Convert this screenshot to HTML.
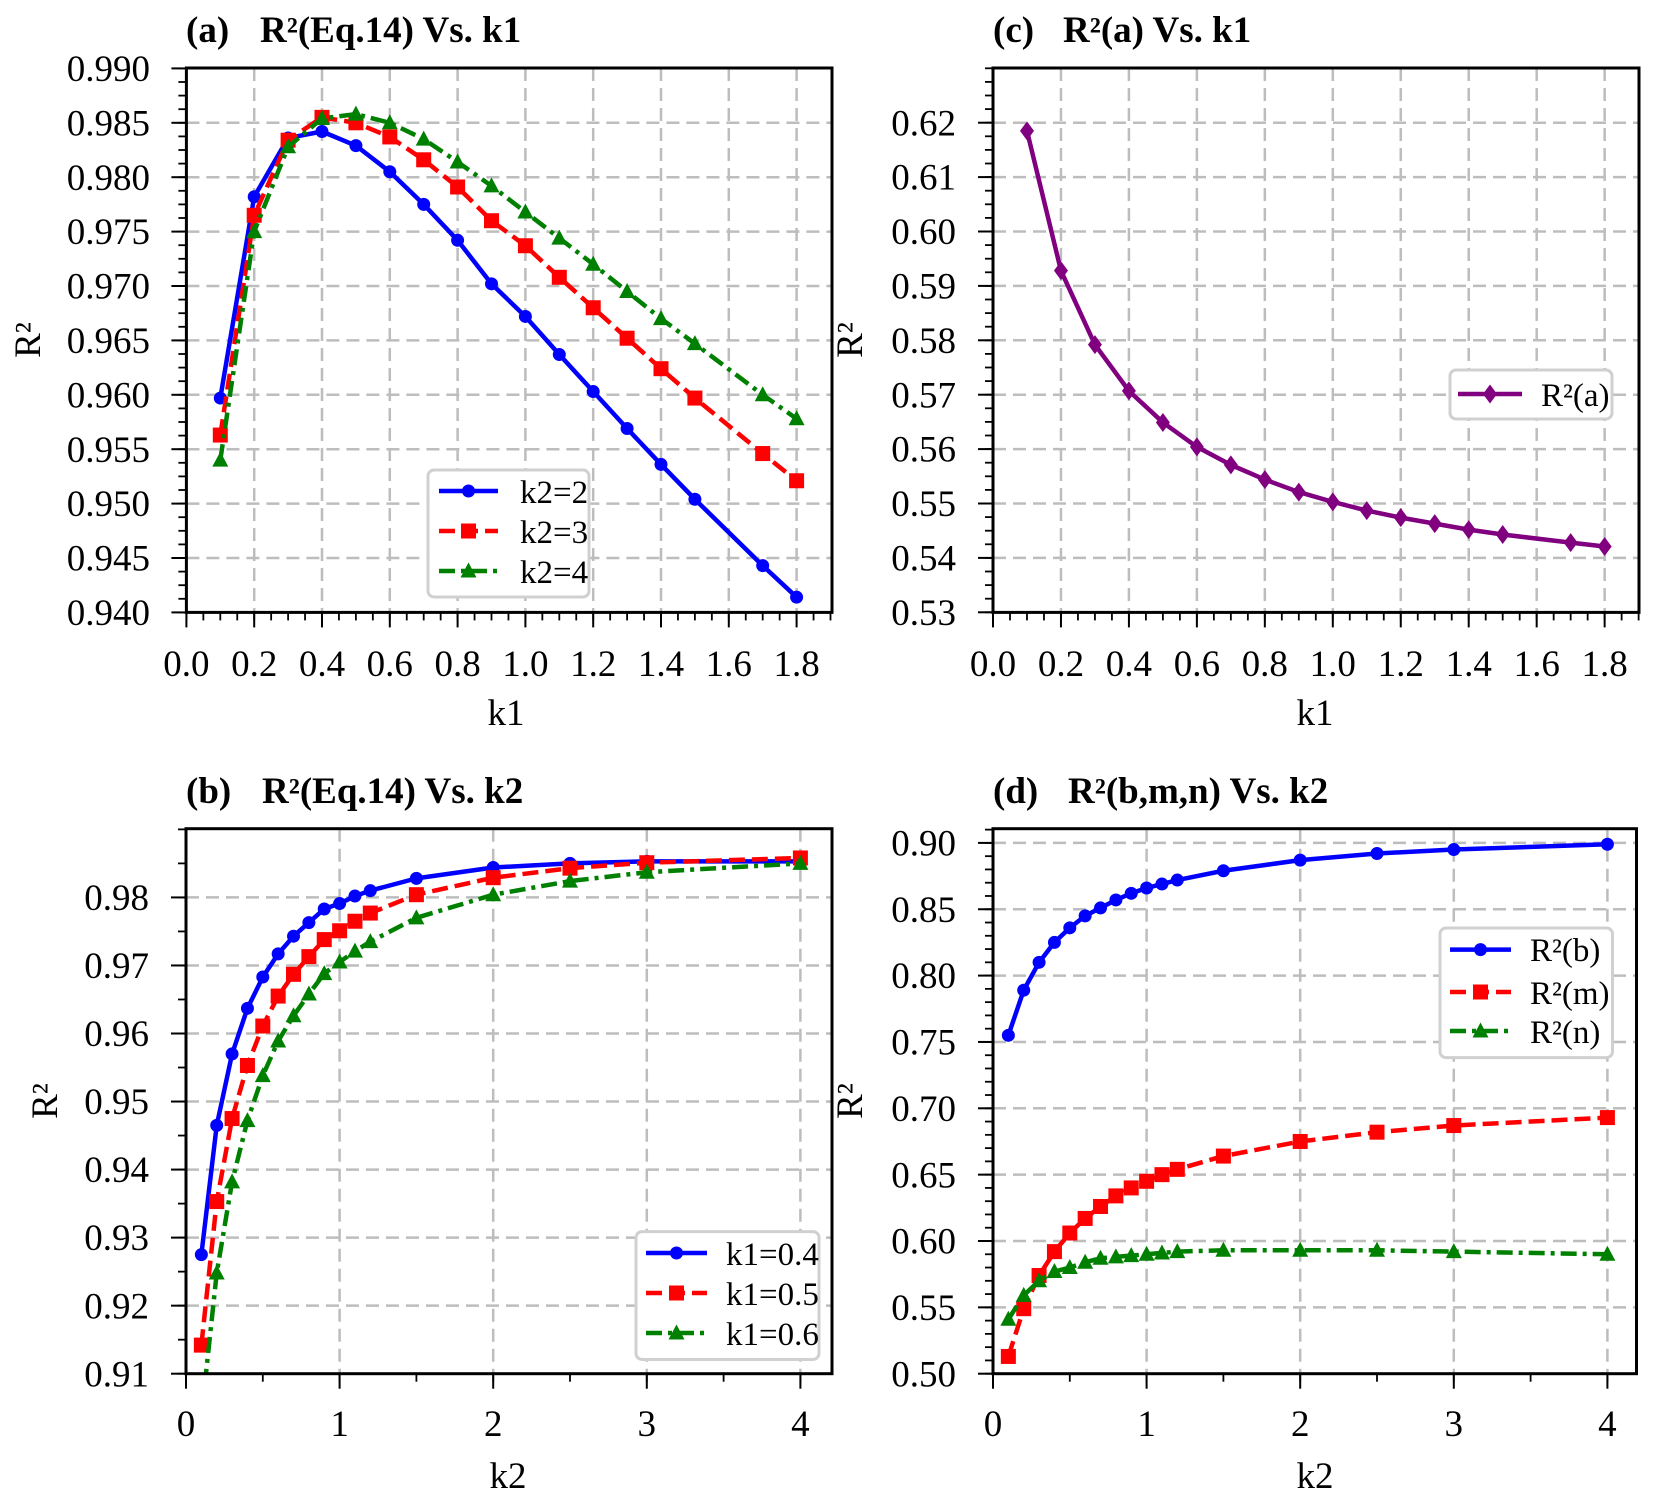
<!DOCTYPE html>
<html><head><meta charset="utf-8"><style>
html,body{margin:0;padding:0;background:#fff;}
svg text{font-family:"Liberation Serif",serif;fill:#000;}
.t{font-size:37px;}
.ti{font-size:37px;font-weight:bold;}
</style></head><body>
<svg id="s" width="1654" height="1503" viewBox="0 0 1654 1503" xmlns="http://www.w3.org/2000/svg">
<rect width="1654" height="1503" fill="#fff"/>
<defs>
<clipPath id="ca"><rect x="186.4" y="68" width="645.6" height="544.4"/></clipPath>
<clipPath id="cc"><rect x="993" y="68" width="646" height="544.4"/></clipPath>
<clipPath id="cb"><rect x="186" y="828.7" width="646" height="545"/></clipPath>
<clipPath id="cd"><rect x="993" y="828.7" width="643.5" height="545"/></clipPath>
</defs>
<g id="grid"></g>
<g id="data"></g>
<g id="frames"></g>

<!-- Titles -->
<text class="ti" x="186" y="42">(a)</text><text class="ti" x="260" y="42">R²(Eq.14) Vs. k1</text>
<text class="ti" x="993" y="42">(c)</text><text class="ti" x="1063" y="42">R²(a) Vs. k1</text>
<text class="ti" x="186" y="803">(b)</text><text class="ti" x="262" y="803">R²(Eq.14) Vs. k2</text>
<text class="ti" x="993" y="803">(d)</text><text class="ti" x="1068" y="803">R²(b,m,n) Vs. k2</text>

<g class="t" text-anchor="middle">
<text x="186.4" y="676">0.0</text><text x="254.2" y="676">0.2</text><text x="322" y="676">0.4</text><text x="389.8" y="676">0.6</text><text x="457.6" y="676">0.8</text><text x="525.4" y="676">1.0</text><text x="593.2" y="676">1.2</text><text x="661" y="676">1.4</text><text x="728.8" y="676">1.6</text><text x="796.6" y="676">1.8</text>
<text x="506" y="725">k1</text>
<text x="993" y="676">0.0</text><text x="1061" y="676">0.2</text><text x="1128.9" y="676">0.4</text><text x="1196.9" y="676">0.6</text><text x="1264.8" y="676">0.8</text><text x="1332.8" y="676">1.0</text><text x="1400.8" y="676">1.2</text><text x="1468.7" y="676">1.4</text><text x="1536.7" y="676">1.6</text><text x="1604.6" y="676">1.8</text>
<text x="1315" y="725">k1</text>
<text x="186" y="1436">0</text><text x="339.6" y="1436">1</text><text x="493.2" y="1436">2</text><text x="646.8" y="1436">3</text><text x="800.4" y="1436">4</text>
<text x="508" y="1488">k2</text>
<text x="993" y="1436">0</text><text x="1146.6" y="1436">1</text><text x="1300.2" y="1436">2</text><text x="1453.8" y="1436">3</text><text x="1607.4" y="1436">4</text>
<text x="1315" y="1488">k2</text>
</g>
<g class="t" text-anchor="end">
<text x="150" y="81">0.990</text><text x="150" y="135.4">0.985</text><text x="150" y="189.8">0.980</text><text x="150" y="244.2">0.975</text><text x="150" y="298.6">0.970</text><text x="150" y="353">0.965</text><text x="150" y="407.4">0.960</text><text x="150" y="461.8">0.955</text><text x="150" y="516.2">0.950</text><text x="150" y="570.6">0.945</text><text x="150" y="625">0.940</text>
<text x="956" y="135.3">0.62</text><text x="956" y="189.7">0.61</text><text x="956" y="244.1">0.60</text><text x="956" y="298.5">0.59</text><text x="956" y="352.9">0.58</text><text x="956" y="407.3">0.57</text><text x="956" y="461.7">0.56</text><text x="956" y="516.1">0.55</text><text x="956" y="570.5">0.54</text><text x="956" y="624.9">0.53</text>
<text x="149" y="1386.3">0.91</text><text x="149" y="1318.3">0.92</text><text x="149" y="1250.2">0.93</text><text x="149" y="1182.2">0.94</text><text x="149" y="1114.1">0.95</text><text x="149" y="1046.1">0.96</text><text x="149" y="978.1">0.97</text><text x="149" y="910">0.98</text>
<text x="956" y="855.5">0.90</text><text x="956" y="921.9">0.85</text><text x="956" y="988.2">0.80</text><text x="956" y="1054.6">0.75</text><text x="956" y="1120.9">0.70</text><text x="956" y="1187.3">0.65</text><text x="956" y="1253.6">0.60</text><text x="956" y="1320">0.55</text><text x="956" y="1386.3">0.50</text>
</g>
<g class="t" text-anchor="middle">
<text transform="translate(40,340) rotate(-90)">R²</text>
<text transform="translate(862,340) rotate(-90)">R²</text>
<text transform="translate(57,1101) rotate(-90)">R²</text>
<text transform="translate(862,1101) rotate(-90)">R²</text>
</g>

<g id="leg"></g>
<g style="font-size:33px;font-family:'Liberation Serif',serif">
<text x="520" y="503">k2=2</text><text x="520" y="543">k2=3</text><text x="520" y="583">k2=4</text>
<text x="1541" y="406">R²(a)</text>
<text x="726" y="1265">k1=0.4</text><text x="726" y="1305">k1=0.5</text><text x="726" y="1345">k1=0.6</text>
<text x="1530" y="961">R²(b)</text><text x="1530" y="1004">R²(m)</text><text x="1530" y="1043">R²(n)</text>
</g>
</svg>
<script>
const NS="http://www.w3.org/2000/svg";
function el(p,tag,a){const e=document.createElementNS(NS,tag);for(const k in a)e.setAttribute(k,a[k]);p.appendChild(e);return e;}
const G=document.getElementById('grid'),D=document.getElementById('data'),F=document.getElementById('frames'),L=document.getElementById('leg');
function ax(o){return {X:v=>o.px0+(v-o.xv0)*o.xs, Y:v=>o.py0-(v-o.yv0)*o.ys, o};}
const A=ax({px0:186.4,xv0:0,xs:339,py0:612.4,yv0:0.94,ys:10880,L:186.4,R:832,T:68,B:612.4,clip:'ca'});
const C=ax({px0:993,xv0:0,xs:339.8,py0:612.3,yv0:0.53,ys:5440,L:993,R:1639,T:68,B:612.4,clip:'cc'});
const B=ax({px0:186,xv0:0,xs:153.6,py0:1373.7,yv0:0.91,ys:6804,L:186,R:832,T:828.7,B:1373.7,clip:'cb'});
const Dd=ax({px0:993,xv0:0,xs:153.6,py0:1373.7,yv0:0.5,ys:1327,L:993,R:1636.5,T:828.7,B:1373.7,clip:'cd'});
function range(a,b,s){const r=[];for(let v=a;v<=b+1e-9;v+=s)r.push(+v.toFixed(6));return r;}
function setup(P,xmaj,xmin,ymaj,ymin){
  const o=P.o;
  xmaj.forEach(v=>{const x=P.X(v);if(x>o.L+2&&x<o.R-2)el(G,'line',{x1:x,x2:x,y1:o.T,y2:o.B,stroke:'#bdbdbd','stroke-width':2.5,'stroke-dasharray':'13 7'});
    el(F,'line',{x1:x,x2:x,y1:o.B,y2:o.B+15,stroke:'#000','stroke-width':2});});
  xmin.forEach(v=>{const x=P.X(v);if(x<o.R)el(F,'line',{x1:x,x2:x,y1:o.B,y2:o.B+8,stroke:'#000','stroke-width':1.8});});
  ymaj.forEach(v=>{const y=P.Y(v);if(y>o.T+2&&y<o.B-2)el(G,'line',{x1:o.L,x2:o.R,y1:y,y2:y,stroke:'#bdbdbd','stroke-width':2.5,'stroke-dasharray':'13 7'});
    el(F,'line',{x1:o.L-15,x2:o.L,y1:y,y2:y,stroke:'#000','stroke-width':2});});
  ymin.forEach(v=>{const y=P.Y(v);if(y>o.T)el(F,'line',{x1:o.L-8,x2:o.L,y1:y,y2:y,stroke:'#000','stroke-width':1.8});});
  el(F,'rect',{x:o.L,y:o.T,width:o.R-o.L,height:o.B-o.T,fill:'none',stroke:'#000','stroke-width':3});
}
setup(A,range(0,1.8,0.2),range(0,1.9,0.05),range(0.94,0.99,0.005),range(0.94,0.99,0.00125));
setup(C,range(0,1.8,0.2),range(0,1.9,0.05),range(0.53,0.62,0.01),range(0.53,0.63,0.0025));
setup(B,range(0,4,1),range(0,4.2,0.5),range(0.91,0.98,0.01),range(0.91,0.99,0.005));
setup(Dd,range(0,4,1),range(0,4.2,0.5),range(0.5,0.9,0.05),range(0.5,0.91,0.01));
const ST={blue:{c:'#0000ff',d:'',m:'o'},red:{c:'#ff0000',d:'16 7',m:'s'},green:{c:'#008000',d:'16 6 4 6',m:'^'},purple:{c:'#800080',d:'',m:'d'}};
function mark(g,m,x,y,c){
  if(m=='o')el(g,'circle',{cx:x,cy:y,r:6.5,fill:c});
  else if(m=='s')el(g,'rect',{x:x-7.5,y:y-7.5,width:15,height:15,fill:c});
  else if(m=='^')el(g,'polygon',{points:`${x},${y-8.5} ${x-8},${y+6.5} ${x+8},${y+6.5}`,fill:c});
  else if(m=='d')el(g,'polygon',{points:`${x},${y-9.5} ${x+7},${y} ${x},${y+9.5} ${x-7},${y}`,fill:c});
}
function series(P,xs,ys,st){
  const s=ST[st],g=el(D,'g',{'clip-path':`url(#${P.o.clip})`});
  const pts=xs.map((x,i)=>[P.X(x),P.Y(ys[i])]);
  const a={points:pts.map(p=>p.join(',')).join(' '),fill:'none',stroke:s.c,'stroke-width':4.5,'stroke-linejoin':'round'};
  if(s.d)a['stroke-dasharray']=s.d;
  el(g,'polyline',a);
  pts.forEach(p=>mark(g,s.m,p[0],p[1],s.c));
}
function legend(box,items){
  el(L,'rect',{x:box[0],y:box[1],width:box[2]-box[0],height:box[3]-box[1],rx:6,fill:'#fff',stroke:'#d0d0d0','stroke-width':3});
  items.forEach(([x1,x2,y,st])=>{const s=ST[st];const a={x1,x2,y1:y,y2:y,stroke:s.c,'stroke-width':4.5};if(s.d)a['stroke-dasharray']=s.d;el(L,'line',a);mark(L,s.m,(x1+x2)/2,y,s.c);});
}
const xa=[0.1,0.2,0.3,0.4,0.5,0.6,0.7,0.8,0.9,1.0,1.1,1.2,1.3,1.4,1.5,1.7,1.8];
series(A,xa,[0.9597,0.9782,0.9836,0.9842,0.9829,0.9805,0.9775,0.9742,0.9702,0.9672,0.9637,0.9603,0.9569,0.9536,0.9504,0.9443,0.9414],'blue');
series(A,xa,[0.9563,0.9765,0.9834,0.9855,0.9850,0.9837,0.9816,0.9791,0.9760,0.9737,0.9708,0.9680,0.9652,0.9624,0.9597,0.9546,0.9521],'red');
series(A,xa,[0.9540,0.9750,0.9828,0.9854,0.9858,0.9850,0.9835,0.9814,0.9792,0.9768,0.9744,0.9720,0.9695,0.9670,0.9647,0.9600,0.9578],'green');
series(C,xa,[0.6185,0.5928,0.5792,0.5707,0.5649,0.5604,0.5571,0.5544,0.5521,0.5503,0.5487,0.5474,0.5463,0.5452,0.5443,0.5428,0.5421],'purple');
const xb=[0.1,0.2,0.3,0.4,0.5,0.6,0.7,0.8,0.9,1.0,1.1,1.2,1.5,2,2.5,3,4];
series(B,xb,[0.9275,0.9465,0.957,0.9637,0.9683,0.9717,0.9743,0.9763,0.9783,0.9791,0.9802,0.981,0.9828,0.9844,0.9850,0.9853,0.9853],'blue');
series(B,xb,[0.9142,0.9353,0.9475,0.9553,0.9611,0.9655,0.9687,0.9713,0.9738,0.9751,0.9765,0.9777,0.9804,0.9829,0.9843,0.9851,0.9858],'red');
series(B,xb,[0.9037,0.9248,0.9382,0.9472,0.9538,0.9589,0.9626,0.9658,0.9688,0.9705,0.9721,0.9735,0.9770,0.9804,0.9824,0.9837,0.9850],'green');
series(Dd,xb,[0.755,0.789,0.810,0.825,0.836,0.845,0.851,0.857,0.862,0.866,0.869,0.872,0.879,0.887,0.892,0.895,0.899],'blue');
series(Dd,xb,[0.513,0.549,0.574,0.592,0.606,0.617,0.626,0.634,0.640,0.645,0.650,0.654,0.664,0.675,0.682,0.687,0.693],'red');
series(Dd,xb,[0.541,0.559,0.570,0.577,0.580,0.584,0.587,0.588,0.589,0.590,0.591,0.592,0.593,0.593,0.593,0.592,0.590],'green');
legend([428,470,589,597],[[439,498,491,'blue'],[439,498,531,'red'],[439,498,571,'green']]);
legend([1450,370,1612,419],[[1458,1522,394,'purple']]);
legend([636,1231.6,819,1359.5],[[646,707,1253,'blue'],[646,707,1293,'red'],[646,707,1333,'green']]);
legend([1440,928,1612.5,1057.6],[[1450,1511,949.6,'blue'],[1450,1511,992,'red'],[1450,1511,1031,'green']]);
</script>
</body></html>
